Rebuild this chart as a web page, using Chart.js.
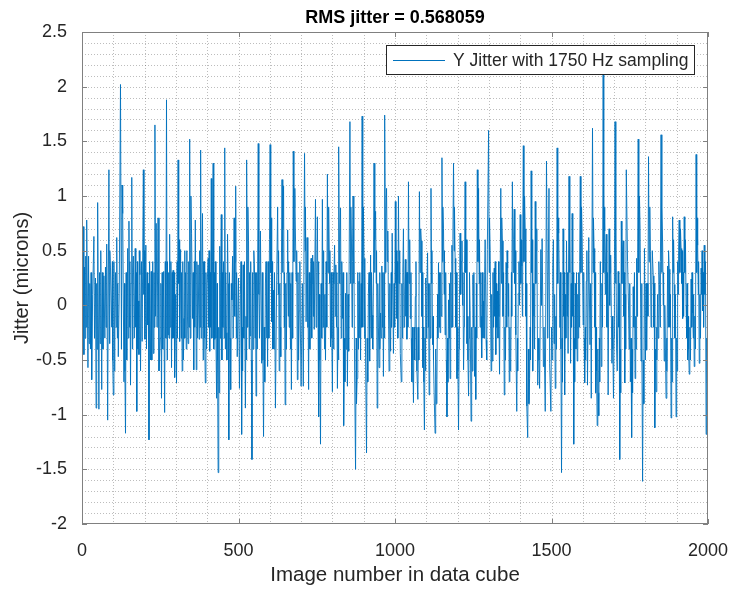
<!DOCTYPE html>
<html>
<head>
<meta charset="utf-8">
<script src="https://cdn.jsdelivr.net/npm/chart.js@4.4.1/dist/chart.umd.min.js"></script>
<style>
  html, body { margin: 0; padding: 0; background: #fff; }
  #wrap { width: 732px; height: 589px; }
</style>
</head>
<body>
<div id="wrap"><canvas id="jitterChart" width="732" height="589"></canvas></div>
<script>
// Y jitter readings, image index vs microns (peaks)
var imageIndex = [
  1,4,10,15,19,25,31,34,38,45, 50,54,60,63,70,73,79,82,86,91,
  95,100,105,111,116,119,123,130,134,139, 146,150,155,159,164,167,170,175,180,185,
  192,196,201,204,210,214,221,228,233,237, 240,
  243,246,250,254,261,264,270,275,280,286, 291,296,299,302,307,312,315,320,326,331,
  339,344,350,353,357,362,365,371,374,379, 385,389,394,400,403,408,413,419,424,430,
  435,440,445,450,456,461,465,469,475,479, 486,491,496,
  500,503,506,510,515,522,527,532,537,543, 551,556,563,570,574,580,588,593,601,606,
  611,618,622,625,630,635,639,644,649,657, 662,669,675,680,684,688,694,700,704,707,
  711,716,719,724,732,737,742,
  746,752,757,762,768,773,778,784,789,794, 800,807,811,816,821,826,832,837,842,848,
  852,856,861,866,871,874,879,885,890,895, 901,906,909,915,919,922,927,933,938,943,
  949,954,958,963,968,973,977,981,986,991,
  995,1001,1006,1011,1017,1020,1027,1033,1038,1043, 1049,1054,1059,1065,1070,1073,1078,1084,1089,1094,
  1099,1104,1109,1115,1120,1125,1128,1134,1139,1144, 1150,1155,1160,1166,1171,1176,1182,1187,1192,1198,
  1203,1208,1214,1219,1224,1230,1235,1240,
  1243,1249,1254,1258,1263,1267,1272,1277,1283,1288, 1291,1295,1299,1304,1307,1311,1317,1322,1327,1334,
  1338,1343,1349,1355,1360,1365,1370,1375,1381,1386, 1389,1394,1400,1405,1410,1416,1421,1424,1430,1435,
  1440,1444,1448,1453,1456,1462,1466,1470,1474,1480, 1484,1488,
  1492,1494,1498,1504,1508,1512,1518,1523,1527,1532, 1537,1542,1548,1553,1556,1561,1566,1571,1576,1582,
  1587,1592,1598,1601,1606,1611,1615,1619,1623,1627, 1631,1636,1641,1646,1651,1656,1659,1665,1670,1675,
  1681,1684,1689,1693,1698,1703,1708,1713,1718,1723, 1729,1734,1739,
  1743,1746,1752,1756,1761,1767,1772,1777,1783,1786, 1791,1797,1800,1804,1810,1816,1820,1825,1830,1834,
  1839,1845,1850,1855,1860,1866,1871,1876,1882,1887, 1892,1898,1903,1908,1914,1919,1924,1930,1935,1940,
  1946,1951,1956,1962,1967,1972,1978,1983,1988,1994, 2000
];
var jitterMicrons = [
  0.15,0.72,-0.3,0.78,-0.57,0.2,-0.68,0.1,0.63,-0.94, 0.94,-0.95,0.5,-0.77,0.27,-0.3,0.56,-1.05,1.24,0.35,
  -0.2,-0.82,-0.18,0.62,-0.47,0.11,2.02,0.84,-0.7,-1.17, 0.52,0.77,-0.73,1.17,0.45,-0.3,0.52,-0.97,0.04,0.28,
  -0.33,1.24,-0.31,0.55,-0.18,-1.23,0.31,-0.44,1.65,0.75, -0.2,
  0.8,-0.6,-0.3,-0.85,0.31,-0.98,1.88,-0.27,0.65,-0.57, 0.32,-0.66,0.1,-0.71,1.33,-0.33,0.51,-0.6,-0.12,0.3,
  -0.35,1.52,0.66,-0.12,-0.59,0.78,-0.59,0.37,-0.31,1.42, 0.84,-0.2,-0.71,0.19,0.43,-0.42,1.16,1.3,-0.31,-0.85,
  -1.53,0.54,0.83,-0.2,1.44,-0.25,0.65,-1.23,-0.77,0.05, 0.8,1.09,-0.47,
  0.25,-0.76,0.1,-1.18,0.37,-0.94,1.33,0.59,-0.28,-1.41, 0.36,-0.83,1.48,0.68,-0.53,-1.2,0.4,-0.56,1.47,-0.15,
  0.14,-0.94,0.23,0.9,-0.6,-0.47,1.15,1.09,-0.91,0.69, -0.2,-0.77,1.41,1.07,0.22,-0.68,-0.05,-0.74,0.2,-0.74,
  1.39,-0.15,0.62,-0.77,0.43,0.46,-0.22,
  0.97,0.81,-1.02,-1.27,0.97,0.17,-0.5,1.2,0.9,-0.38, -0.79,0.55,0.37,-0.76,1.45,0.89,-0.12,-1.1,0.11,-0.74,
  -0.42,1.68,0.57,1.0,-0.6,-1.5,-0.67,0.22,-0.5,1.73, 0.43,-0.48,-1.35,0.11,-0.51,0.46,-0.09,1.3,0.86,-0.94,
  -0.57,-0.07,0.36,-0.65,1.74,1.07,0.68,-0.6,-0.42,0.66,
  -0.44,0.95,-0.12,1.0,-0.44,-0.7,0.7,0.42,-0.31,1.13, -0.12,-0.7,-0.89,0.08,-0.6,-0.86,1.04,0.59,-0.57,-1.14,
  0.25,0.48,-0.82,1.07,-0.36,-0.8,-1.17,-0.68,0.39,-0.25, 1.35,0.7,-0.27,-1.02,0.05,-0.67,0.55,1.3,0.43,-0.67,
  -1.14,0.66,0.59,-0.59,1.13,-0.35,-0.83,-0.05,
  -1.06,0.28,-0.65,-0.86,1.24,1.07,-0.2,-0.48,0.04,0.6, -0.32,0.51,1.6,0.5,-0.6,-0.51,0.34,-0.45,0.13,-0.63,
  1.07,0.59,-0.82,0.39,0.34,-0.7,-0.48,1.13,0.88,-0.27, -0.97,0.11,0.83,0.36,1.46,0.7,-0.92,-1.21,-0.67,1.23,
  -0.6,-0.1,0.95,0.7,-0.73,-0.76,0.51,0.61,-0.56,-0.97, 1.32,-0.3,
  1.07,-0.53,-0.97,0.36,-0.35,-0.76,1.44,0.66,-0.2,-1.53, 0.7,-0.82,0.59,-0.44,1.18,-0.53,0.84,-1.27,0.2,-0.51,
  0.3,1.18,0.62,-0.18,-0.71,0.22,-0.73,0.62,-0.36,-0.85, 1.62,0.52,-0.8,-1.1,-1.01,0.4,-0.56,2.2,0.68,0.65,
  -0.82,0.7,0.46,-0.53,-0.85,1.68,-0.39,0.31,-1.41,0.77, 0.59,-0.71,1.24,
  0.4,0.0,-0.7,-1.21,0.17,-0.67,0.43,1.52,0.7,-0.51, -1.61,0.52,-0.5,-0.41,1.36,0.49,0.13,0.27,-1.12,-0.79,
  0.1,0.19,1.56,0.57,-0.51,-0.85,0.36,0.33,-1.03,0.81, 0.19,-1.02,0.4,0.78,0.52,-0.12,0.81,0.0,-0.5,-0.63,
  0.24,-0.07,-0.56,1.38,0.55,-0.53,0.34,-0.05,0.55,-1.18, 1.5
];

// smaller swings inside the dense core of the trace, [image index, microns]
var coreReadings = [
  [6,-0.45],[8,0.35],[12,0.45],[13,-0.2],[21,0.45],[23,-0.35],[27,-0.4],[29,0.3],[40,-0.3],[43,0.25],
  [47,0.2],[48,-0.4],[56,0.3],[58,-0.35],[65,0.3],[67,-0.4],[75,0.35],[77,-0.2],[88,-0.35],[89,0.5],
  [97,0.4],[98,-0.5],[102,0.4],[103,-0.6],[107,0.3],[109,-0.2],[113,-0.3],[114,0.2],[126,-0.4],[128,1.1],
  [136,0.2],[137,-0.6],[141,0.3],[143,-0.5],[148,-0.3],[152,-0.2],[153,0.4],[157,0.2],[161,-0.4],[162,0.3],
  [172,-0.2],[173,0.3],[177,0.4],[178,-0.4],[182,-0.45],[183,0.5],[187,-0.6],[190,0.4],[198,0.1],[199,0.5],
  [206,-0.4],[208,0.3],[212,0.2],[216,0.4],[219,-0.5],[223,-0.5],[226,0.4],[230,0.3],[231,-0.2],[235,-0.1],
  [252,0.2],[256,0.3],[258,-0.4],[266,0.4],[268,-0.3],[272,-0.5],[273,0.4],[277,0.3],[278,-0.3],[282,-0.2],
  [284,0.4],[288,0.3],[289,-0.3],[293,-0.3],[294,0.3],[304,0.4],[305,-0.3],[309,0.2],[310,0.6],[317,-0.3],
  [318,0.3],[322,0.4],[324,-0.5],[328,0.5],[329,-0.3],[333,-0.4],[335,0.5],[337,-0.1],[341,0.4],[342,-0.2],
  [346,-0.3],[348,1.0],[355,0.3],[359,0.4],[360,-0.2],[367,0.4],[369,-0.3],[376,0.5],[377,-0.2],[381,-0.3],
  [383,0.3],[387,-0.5],[388,0.4],[391,0.4],[392,-0.3],[396,0.3],[398,-0.4],[405,-0.2],[406,0.5],[410,0.3],
  [411,-0.2],[415,-0.3],[417,0.4],[421,-0.4],[422,0.3],[426,0.4],[428,-0.3],[432,0.2],[433,-0.5],[437,-0.2],
  [438,-0.8],[442,-0.3],[443,0.2],[447,-0.5],[448,0.3],[452,0.4],[454,-0.3],[458,-0.4],[459,0.3],[463,-0.5],
  [467,0.2],[471,0.3],[473,-0.3],[477,0.2],[481,0.45],[483,-0.3],[488,-0.1],[489,0.4],[493,-0.3],[494,0.3],
  [508,0.4],[512,-0.2],[513,-0.6],[517,-0.3],[519,0.4],[524,-0.1],[525,-0.5],[529,-0.2],[530,0.9],[534,-0.4],
  [535,0.3],[539,0.4],[541,-0.5],[545,0.3],[547,-0.4],[549,0.5],[553,-0.3],[554,0.3],[558,0.3],[560,-0.4],
  [565,0.1],[567,-0.3],[576,0.3],[578,-0.5],[582,-0.2],[584,-0.7],[586,0.2],[590,-0.3],[591,0.3],[595,0.4],
  [597,-0.3],[599,0.6],[603,0.3],[604,0.8],[608,0.4],[609,-0.4],[613,-0.4],[615,0.3],[627,0.1],[628,0.5],
  [632,0.2],[633,-0.2],[641,0.3],[642,0.7],[646,-0.2],[647,0.3],[651,0.2],[653,-0.4],[655,0.3],[659,-0.1],
  [660,0.4],[664,0.3],[666,-0.4],[667,0.2],[671,0.3],[673,-0.3],[677,0.4],[678,0.9],[686,0.5],[690,0.3],
  [692,-0.5],[696,0.4],[698,-0.3],[713,0.5],[714,0.9],[721,-0.2],[722,0.3],[726,0.3],[728,-0.4],[730,0.2],
  [734,-0.3],[735,0.2],[739,-0.1],[740,0.4],
  [748,-0.2],[750,0.3],[754,-0.1],[755,0.4],[759,0.1],[760,-0.5],[764,0.2],[766,-0.3],[770,-0.2],[771,0.5],
  [775,-0.4],[776,0.1],[780,0.4],[782,-0.2],[786,0.3],[787,0.6],[791,0.2],[792,0.5],[796,0.3],[798,-0.3],
  [802,0.3],[804,-0.4],[805,0.2],[809,-0.1],[813,-0.2],[814,0.3],[818,-0.2],[819,-0.5],[823,0.2],[824,0.6],
  [828,-0.3],[830,0.4],[834,0.3],[835,-0.4],[839,-0.3],[840,-0.7],[844,-0.4],[846,0.3],[850,0.1],[858,0.2],
  [859,0.9],[863,-0.2],[864,0.4],[868,0.2],[869,0.5],[876,-0.3],[877,-0.9],[881,0.3],[883,-0.4],[887,-0.3],
  [888,0.3],[892,0.2],[893,-0.2],[897,-0.2],[899,0.9],[903,-0.3],[904,0.3],[911,-0.3],[913,-0.7],[917,0.3],
  [924,-0.3],[925,0.3],[929,-0.4],[931,0.2],[935,0.3],[936,0.6],[940,0.2],[941,0.5],[945,0.2],[947,-0.2],
  [951,0.3],[952,-0.4],[956,-0.3],[960,-0.2],[961,0.3],[965,0.3],[966,-0.3],[970,0.3],[971,0.8],[975,0.4],
  [983,0.2],[984,-0.1],[988,0.3],[989,-0.2],
  [997,0.2],[999,-0.2],[1003,0.2],[1004,0.5],[1008,0.4],[1009,-0.3],[1013,0.2],[1015,0.5],[1022,0.2],[1024,-0.3],
  [1025,0.3],[1029,-0.2],[1031,0.1],[1035,-0.1],[1036,0.3],[1040,0.3],[1041,-0.2],[1045,0.2],[1047,0.6],[1051,0.3],
  [1052,-0.3],[1056,-0.2],[1057,-0.5],[1061,-0.2],[1063,-0.5],[1067,0.4],[1068,-0.2],[1075,-0.2],[1076,-0.5],[1080,0.3],
  [1082,0.7],[1086,-0.1],[1087,0.3],[1091,-0.2],[1092,-0.7],[1096,-0.3],[1097,-0.6],[1101,-0.3],[1102,0.2],[1106,-0.2],
  [1107,0.2],[1111,0.2],[1113,-0.3],[1117,0.2],[1118,0.5],[1122,-0.1],[1123,-0.5],[1130,-0.4],[1132,-0.9],[1136,0.1],
  [1137,-0.3],[1141,-0.2],[1142,0.3],[1146,0.3],[1148,-0.1],[1152,0.4],[1153,0.9],[1157,0.1],[1158,0.5],[1162,0.3],
  [1164,-0.5],[1168,-0.3],[1169,-0.7],[1173,-0.3],[1174,0.2],[1178,0.3],[1180,-0.2],[1184,-0.2],[1185,0.6],[1189,0.5],
  [1190,0.9],[1194,-0.2],[1196,0.3],[1200,-0.2],[1201,-0.6],[1205,-0.4],[1206,0.1],[1210,0.1],[1212,0.4],[1216,0.0],
  [1217,0.3],[1221,-0.2],[1222,0.3],[1226,0.3],[1228,0.6],[1232,-0.1],[1233,-0.5],[1237,-0.3],[1238,0.3],
  [1245,-0.2],[1247,-0.6],[1251,-0.2],[1252,0.3],[1256,-0.2],[1260,0.2],[1261,-0.3],[1265,0.4],[1269,0.2],[1270,0.6],
  [1274,0.3],[1275,-0.1],[1279,0.3],[1281,-0.3],[1285,-0.3],[1286,0.2],[1293,-0.5],[1301,0.3],[1302,0.8],[1309,0.1],
  [1313,0.3],[1315,-0.2],[1319,-0.1],[1320,0.4],[1324,0.2],[1325,-0.2],[1329,-0.3],[1331,0.4],[1332,-0.1],[1340,0.2],
  [1341,0.8],[1345,-0.1],[1347,0.3],[1351,-0.2],[1353,-0.5],[1357,-0.2],[1358,0.5],[1362,-0.1],[1363,0.2],[1367,-0.2],
  [1368,-0.6],[1372,0.3],[1373,-0.1],[1377,0.3],[1379,0.6],[1383,0.2],[1384,0.5],[1391,-0.3],[1392,-0.6],[1396,0.4],
  [1398,0.0],[1402,0.2],[1403,0.6],[1407,-0.1],[1408,0.6],[1412,0.4],[1414,1.0],[1418,-0.1],[1419,0.2],[1426,-0.4],
  [1428,-0.9],[1432,-0.2],[1433,-0.5],[1437,0.3],[1438,0.6],[1442,0.2],[1446,-0.4],[1450,0.2],[1451,0.5],[1458,-0.3],
  [1460,-0.5],[1468,0.0],[1476,-0.2],[1478,-0.6],
  [1500,-0.2],[1502,-0.5],[1506,0.6],[1510,0.1],[1514,-0.1],[1516,-0.4],[1520,0.2],[1521,0.8],[1529,0.3],[1530,-0.4],
  [1534,-0.3],[1535,-0.7],[1539,-0.1],[1540,0.3],[1544,0.1],[1546,-0.3],[1550,-0.1],[1551,0.3],[1558,0.3],[1559,0.6],
  [1563,0.2],[1564,-0.2],[1568,-0.1],[1569,0.3],[1573,-0.3],[1574,-0.7],[1578,-0.4],[1580,0.3],[1584,0.1],[1585,-0.3],
  [1589,-0.2],[1590,0.4],[1594,0.3],[1596,0.9],[1603,0.3],[1604,-0.3],[1608,-0.2],[1609,-0.5],[1613,0.5],[1625,0.2],
  [1633,0.3],[1634,0.8],[1638,-0.2],[1639,0.3],[1643,-0.2],[1644,-0.6],[1648,-0.4],[1649,-0.8],[1653,-0.3],[1654,-0.7],
  [1661,0.2],[1663,-0.2],[1667,0.3],[1668,0.9],[1672,0.1],[1673,0.4],[1677,-0.2],[1679,0.3],[1686,0.0],[1687,0.3],
  [1695,-0.1],[1696,-0.4],[1700,-0.3],[1701,0.3],[1705,0.2],[1706,0.6],[1710,-0.6],[1715,-0.2],[1716,0.2],[1720,-0.4],
  [1721,-0.8],[1725,0.2],[1727,0.5],[1731,-0.1],[1732,0.3],[1736,0.1],[1737,-0.4],
  [1748,-0.4],[1750,0.2],[1754,-0.3],[1758,-0.4],[1759,-0.8],[1763,-0.2],[1765,0.3],[1769,-0.1],[1770,-0.4],[1774,-0.1],
  [1775,0.3],[1779,0.3],[1781,1.0],[1788,0.2],[1789,-0.3],[1793,-0.5],[1795,-0.9],[1802,0.2],[1806,0.2],[1808,-0.1],
  [1812,0.4],[1814,0.9],[1818,-0.2],[1822,0.5],[1827,-0.2],[1828,0.2],[1832,-0.4],[1836,-0.2],[1837,-0.5],[1841,-0.3],
  [1843,0.4],[1847,-0.2],[1848,0.4],[1852,0.3],[1853,0.9],[1857,0.0],[1858,0.3],[1862,0.0],[1864,-0.4],[1868,-0.3],
  [1869,-0.6],[1873,-0.2],[1874,0.5],[1878,-0.2],[1880,0.1],[1884,-0.3],[1885,-0.7],[1889,0.3],[1890,0.6],[1894,-0.3],
  [1896,0.1],[1900,-0.3],[1901,-0.6],[1905,0.1],[1906,0.5],[1910,0.3],[1912,0.7],[1916,0.2],[1917,0.5],[1921,0.3],
  [1922,-0.1],[1926,0.3],[1928,0.6],[1932,-0.3],[1933,0.2],[1937,-0.1],[1938,-0.4],[1942,-0.2],[1944,-0.5],[1948,-0.2],
  [1949,0.3],[1953,-0.3],[1954,0.1],[1958,-0.1],[1960,-0.4],[1964,0.3],[1965,0.8],[1969,0.1],[1970,0.4],[1974,0.1],
  [1976,-0.3],[1980,0.1],[1981,0.5],[1985,0.3],[1986,-0.2],[1990,0.1],[1992,0.4],[1996,-0.3],[1998,-0.7]
];

var xTicks = [0, 500, 1000, 1500, 2000];
var yTicks = [-2, -1.5, -1, -0.5, 0, 0.5, 1, 1.5, 2, 2.5];

var titleText  = 'RMS jitter = 0.568059';
var seriesName = 'Y Jitter with 1750 Hz sampling';
var fontFamily = '"Liberation Sans", Arial, Helvetica, sans-serif';
var axisInk    = '#262626';

// dotted grid, every 100 images and every 0.1 micron (MATLAB grid minor)
var dottedGrid = {
    id: 'dottedGrid',
    beforeDatasetsDraw: function (chart) {
        var a = chart.chartArea, ctx = chart.ctx;
        var xs = chart.scales.x, ys = chart.scales.y;
        ctx.save();
        ctx.strokeStyle = 'rgba(38,38,38,0.3)';
        ctx.lineWidth = 1;
        ctx.setLineDash([1, 2]);
        ctx.beginPath();
        for (var k = -19; k <= 24; k++) {
            var py = Math.round(ys.getPixelForValue(k / 10)) + 0.5;
            ctx.moveTo(a.left, py); ctx.lineTo(a.right, py);
        }
        for (var j = 1; j < 20; j++) {
            var px = Math.round(xs.getPixelForValue(j * 100)) + 0.5;
            ctx.moveTo(px, a.top); ctx.lineTo(px, a.bottom);
        }
        ctx.stroke();
        ctx.restore();
    }
};

// box, inward ticks, title and in-axes legend
var frame = {
    id: 'frame',
    afterDatasetsDraw: function (chart) {
        var a = chart.chartArea, ctx = chart.ctx;
        var xs = chart.scales.x, ys = chart.scales.y;
        var tl = 5;
        ctx.save();
        ctx.strokeStyle = '#808080';
        ctx.lineWidth = 1;
        ctx.beginPath();
        xTicks.forEach(function (v) {
            var px = Math.round(xs.getPixelForValue(v)) + 0.5;
            ctx.moveTo(px, a.bottom); ctx.lineTo(px, a.bottom - tl);
            ctx.moveTo(px, a.top); ctx.lineTo(px, a.top + tl);
        });
        yTicks.forEach(function (v) {
            var py = Math.round(ys.getPixelForValue(v)) + 0.5;
            ctx.moveTo(a.left, py); ctx.lineTo(a.left + tl, py);
            ctx.moveTo(a.right, py); ctx.lineTo(a.right - tl, py);
        });
        ctx.stroke();
        ctx.strokeRect(Math.round(a.left) + 0.5, Math.round(a.top) + 0.5,
                       Math.round(a.right - a.left) - 1, Math.round(a.bottom - a.top) - 1);

        // title
        ctx.fillStyle = '#000';
        ctx.font = 'bold 18px ' + fontFamily;
        ctx.textAlign = 'center';
        ctx.textBaseline = 'middle';
        ctx.fillText(titleText, (a.left + a.right) / 2, 18);

        // legend
        ctx.font = '17.5px ' + fontFamily;
        var tw = ctx.measureText(seriesName).width;
        var right = Math.round(a.right) - 13, top = Math.round(a.top) + 13;
        var w = 67 + tw + 7, h = 30;
        var left = Math.round(right - w);
        ctx.fillStyle = '#fff';
        ctx.fillRect(left, top, right - left, h);
        ctx.strokeStyle = axisInk;
        ctx.strokeRect(left + 0.5, top + 0.5, right - left - 1, h - 1);
        ctx.strokeStyle = '#0072BD';
        ctx.beginPath();
        ctx.moveTo(left + 7, top + h / 2 + 0.5);
        ctx.lineTo(left + 59, top + h / 2 + 0.5);
        ctx.stroke();
        ctx.fillStyle = axisInk;
        ctx.textAlign = 'left';
        ctx.fillText(seriesName, left + 67, top + h / 2 + 1);
        ctx.restore();
    }
};

var points = imageIndex.map(function (x, i) { return { x: x, y: jitterMicrons[i] }; })
    .concat(coreReadings.map(function (p) { return { x: p[0], y: p[1] }; }))
    .sort(function (p, q) { return p.x - q.x; });

new Chart(document.getElementById('jitterChart').getContext('2d'), {
    type: 'line',
    data: {
        datasets: [{
            label: seriesName,
            data: points,
            borderColor: '#0072BD',
            borderWidth: 0.9,
            pointRadius: 0,
            tension: 0,
            fill: false
        }]
    },
    options: {
        responsive: false,
        animation: false,
        devicePixelRatio: 1,
        parsing: false,
        layout: { padding: { left: 0, right: 24, top: 32, bottom: 0 } },
        plugins: {
            legend: { display: false },
            title: { display: false },
            tooltip: { enabled: false }
        },
        scales: {
            x: {
                type: 'linear',
                min: 0,
                max: 2000,
                afterBuildTicks: function (s) { s.ticks = xTicks.map(function (v) { return { value: v }; }); },
                afterFit: function (s) { s.height = 65; s.paddingLeft = 0; s.paddingRight = 0; },
                grid: { display: false },
                border: { display: false },
                ticks: {
                    color: axisInk,
                    padding: 8,
                    maxRotation: 0,
                    font: { family: fontFamily, size: 18 },
                    callback: function (v) { return String(v); }
                },
                title: {
                    display: true,
                    text: 'Image number in data cube',
                    color: axisInk,
                    font: { family: fontFamily, size: 20.5 },
                    padding: { top: 0, bottom: 1 }
                }
            },
            y: {
                type: 'linear',
                min: -2,
                max: 2.5,
                afterBuildTicks: function (s) { s.ticks = yTicks.map(function (v) { return { value: v }; }); },
                afterFit: function (s) { s.width = 82; s.paddingTop = 0; s.paddingBottom = 0; },
                grid: { display: false },
                border: { display: false },
                ticks: {
                    color: axisInk,
                    padding: 7,
                    font: { family: fontFamily, size: 18 },
                    callback: function (v) { return String(v); }
                },
                title: {
                    display: true,
                    text: 'Jitter (microns)',
                    color: axisInk,
                    font: { family: fontFamily, size: 20 },
                    padding: { top: 10, bottom: 0 }
                }
            }
        }
    },
    plugins: [dottedGrid, frame]
});
</script>
</body>
</html>
